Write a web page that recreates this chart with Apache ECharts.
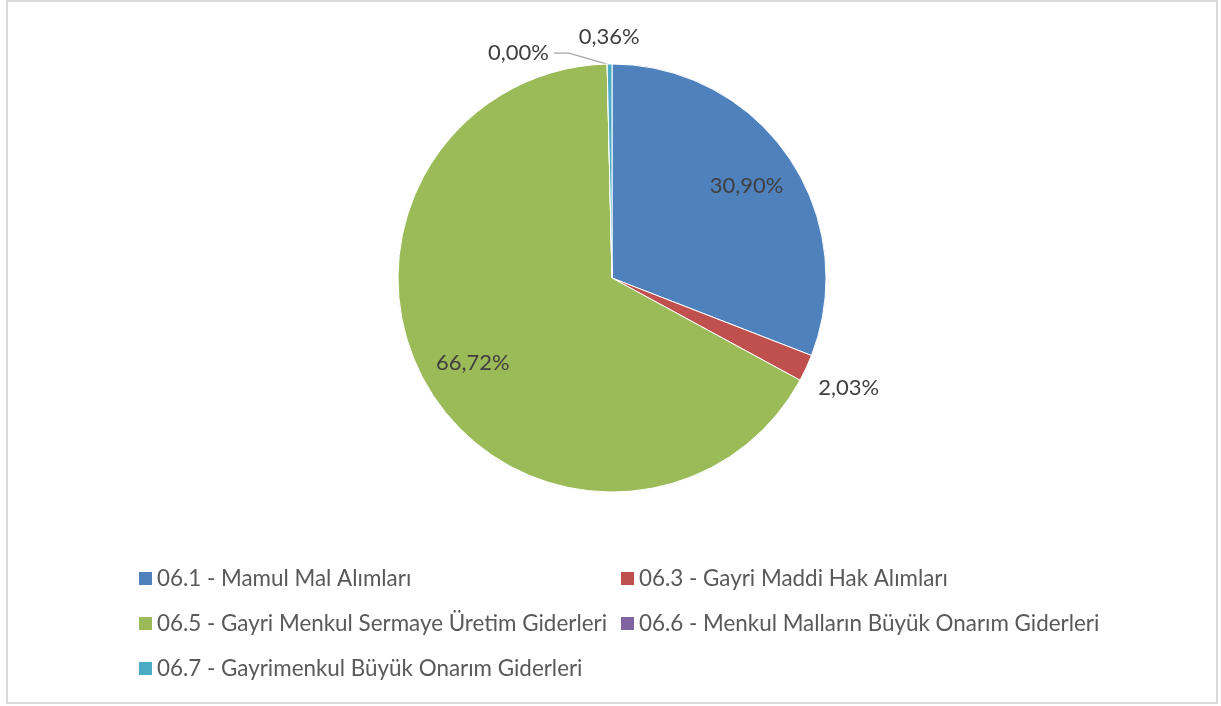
<!DOCTYPE html>
<html>
<head>
<meta charset="utf-8">
<script src="https://cdn.jsdelivr.net/npm/echarts@6/dist/echarts.min.js"></script>
<style>
  html, body { margin: 0; padding: 0; background: #fff; }
  #chart { width: 1221px; height: 706px; }
</style>
</head>
<body>
<div id="chart"></div>
<script>
// Budget shares by expense code (percent)
const categories = [
  '06.1 - Mamul Mal Alımları',
  '06.3 - Gayri Maddi Hak Alımları',
  '06.5 - Gayri Menkul Sermaye Üretim Giderleri',
  '06.6 - Menkul Malların Büyük Onarım Giderleri',
  '06.7 - Gayrimenkul Büyük Onarım Giderleri'
];
const shares = [30.90, 2.03, 66.72, 0.00, 0.36];
const colors = ['#4F81BD', '#C0504D', '#9BBB59', '#8064A2', '#4BACC6'];

const FONT = 'Lato';
const CENTER = [612, 278];
const R = 214;

const fmt = p => p.value.toFixed(2).replace('.', ',') + '%';
const labelText = { color: '#404040', fontFamily: FONT, fontSize: 22 };

// Which label each pie layer draws
const innerLabels = [0, 2];      // drawn inside the slices
const farLabels = [1];           // drawn just outside the rim
const topLabels = [4];           // drawn above the rim
const leaderLabels = [3];        // drawn with a leader line

function layerData(showIdx, transparent) {
  return categories.map((name, i) => ({
    name,
    value: shares[i],
    itemStyle: transparent ? { color: 'rgba(0,0,0,0)', borderWidth: 0 } : undefined,
    label: { show: showIdx.includes(i) }
  }));
}

function ghost(radius, showIdx) {
  return {
    type: 'pie',
    center: CENTER,
    radius: radius,
    startAngle: 90,
    silent: true,
    avoidLabelOverlap: false,
    label: Object.assign({ position: 'inside', formatter: fmt }, labelText),
    labelLine: { show: false },
    emphasis: { disabled: true },
    data: layerData(showIdx, true)
  };
}

const chart = echarts.init(document.getElementById('chart'), null, { renderer: 'canvas' });

const legendText = { color: '#595959', fontFamily: FONT, fontSize: 22.4, lineHeight: 25 };
const legendBase = {
  orient: 'vertical', top: 566, padding: 0,
  itemWidth: 13, itemHeight: 13, itemGap: 20, icon: 'rect',
  itemStyle: { borderWidth: 0 },
  textStyle: legendText, selectedMode: false
};

chart.setOption({
  animation: false,
  color: colors,
  legend: [
    Object.assign({}, legendBase, { left: 139, data: [categories[0], categories[2], categories[4]] }),
    Object.assign({}, legendBase, { left: 621, data: [categories[1], categories[3]] })
  ],
  graphic: [{
    type: 'rect',
    shape: { x: 7, y: 1, width: 1210, height: 702 },
    style: { fill: 'none', stroke: '#d9d9d9', lineWidth: 2 },
    silent: true
  }],
  series: [
    {
      type: 'pie',
      center: CENTER,
      radius: [0, R],
      startAngle: 90,
      silent: true,
      avoidLabelOverlap: false,
      itemStyle: { borderColor: '#ffffff', borderWidth: 1 },
      label: Object.assign({ position: 'outside', formatter: fmt }, labelText),
      labelLine: {
        show: true, length: 11, length2: 53, smooth: false,
        lineStyle: { color: '#a6a6a6', width: 1.3 }
      },
      // bend the leader so it runs diagonally from the rim, then flat into the text
      labelLayout: function (params) {
        const pts = params.labelLinePoints;
        if (!pts || pts.length < 3) return {};
        const end = pts[2];
        return { labelLinePoints: [pts[0], [end[0] + 15, end[1]], end] };
      },
      emphasis: { disabled: true },
      data: layerData(leaderLabels, false)
    },
    ghost([0, 320], innerLabels),
    ghost([R, 302], farLabels),
    ghost([R, 262], topLabels)
  ]
});
</script>
</body>
</html>
